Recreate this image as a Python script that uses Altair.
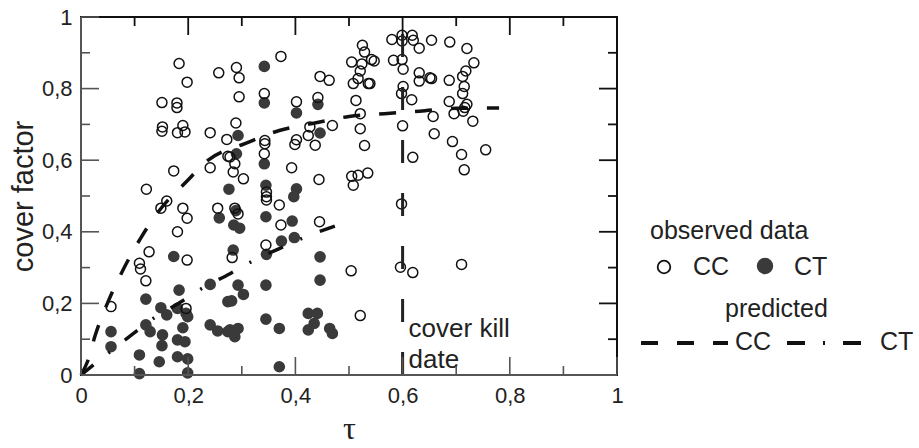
import altair as alt
import pandas as pd

W, H = 536, 358

series = ["CC", "CT"]

# observed data, CC (open circles)
cc_x = [0.183, 0.257, 0.198, 0.151, 0.179, 0.179, 0.152, 0.151, 0.190, 0.180, 0.194, 0.241, 0.272, 0.274,
        0.241, 0.173, 0.122, 0.290, 0.295, 0.373, 0.295, 0.342, 0.402, 0.442, 0.446, 0.463, 0.289, 0.343,
        0.343, 0.402, 0.399, 0.427, 0.424, 0.437, 0.469, 0.278, 0.287, 0.284, 0.303, 0.342, 0.393, 0.444,
        0.346, 0.346, 0.346, 0.370, 0.373, 0.445, 0.160, 0.149, 0.190, 0.198, 0.255, 0.180, 0.127, 0.198,
        0.109, 0.111, 0.121, 0.056, 0.196, 0.282, 0.345, 0.287, 0.293, 0.504, 0.521, 0.596, 0.619, 0.710,
        0.598, 0.600, 0.619, 0.513, 0.521, 0.521, 0.529, 0.525, 0.529, 0.505, 0.524, 0.542, 0.521, 0.508,
        0.536, 0.517, 0.505, 0.517, 0.535, 0.508, 0.580, 0.599, 0.599, 0.618, 0.620, 0.631, 0.654, 0.688,
        0.720, 0.733, 0.583, 0.599, 0.601, 0.547, 0.631, 0.631, 0.651, 0.654, 0.687, 0.712, 0.718, 0.715,
        0.539, 0.601, 0.598, 0.617, 0.687, 0.712, 0.720, 0.716, 0.713, 0.696, 0.731, 0.657, 0.659, 0.693,
        0.710, 0.755, 0.715]
cc_y = [0.870, 0.844, 0.818, 0.761, 0.760, 0.747, 0.693, 0.681, 0.697, 0.677, 0.679, 0.677, 0.658, 0.611,
        0.579, 0.570, 0.519, 0.859, 0.830, 0.890, 0.777, 0.786, 0.763, 0.775, 0.834, 0.823, 0.704, 0.655,
        0.646, 0.657, 0.644, 0.693, 0.669, 0.642, 0.697, 0.609, 0.590, 0.567, 0.548, 0.618, 0.579, 0.546,
        0.511, 0.498, 0.489, 0.475, 0.419, 0.428, 0.486, 0.466, 0.466, 0.438, 0.466, 0.400, 0.344, 0.321,
        0.312, 0.296, 0.263, 0.191, 0.186, 0.328, 0.363, 0.466, 0.450, 0.291, 0.166, 0.301, 0.286, 0.309,
        0.478, 0.696, 0.608, 0.767, 0.730, 0.688, 0.641, 0.921, 0.902, 0.874, 0.869, 0.881, 0.849, 0.814,
        0.814, 0.828, 0.555, 0.558, 0.564, 0.530, 0.937, 0.949, 0.933, 0.949, 0.935, 0.913, 0.935, 0.930,
        0.912, 0.872, 0.879, 0.881, 0.854, 0.877, 0.844, 0.821, 0.830, 0.828, 0.823, 0.834, 0.849, 0.806,
        0.814, 0.806, 0.786, 0.769, 0.764, 0.786, 0.756, 0.747, 0.737, 0.730, 0.709, 0.722, 0.674, 0.652,
        0.616, 0.629, 0.573]

# observed data, CT (filled circles)
ct_x = [0.342, 0.342, 0.402, 0.442, 0.446, 0.293, 0.290, 0.342, 0.276, 0.345, 0.402, 0.397, 0.258, 0.289,
        0.285, 0.296, 0.345, 0.394, 0.374, 0.398, 0.346, 0.284, 0.446, 0.446, 0.345, 0.293, 0.303, 0.281,
        0.345, 0.370, 0.424, 0.441, 0.435, 0.424, 0.464, 0.469, 0.370, 0.278, 0.293, 0.287, 0.241, 0.255,
        0.274, 0.241, 0.274, 0.173, 0.183, 0.121, 0.149, 0.160, 0.180, 0.196, 0.199, 0.121, 0.129, 0.152,
        0.151, 0.190, 0.180, 0.194, 0.056, 0.056, 0.109, 0.146, 0.180, 0.199, 0.109, 0.199]
ct_y = [0.862, 0.760, 0.732, 0.756, 0.676, 0.669, 0.618, 0.590, 0.519, 0.530, 0.520, 0.498, 0.439, 0.459,
        0.419, 0.410, 0.442, 0.430, 0.374, 0.384, 0.337, 0.349, 0.330, 0.265, 0.251, 0.251, 0.225, 0.207,
        0.156, 0.130, 0.172, 0.172, 0.144, 0.126, 0.130, 0.116, 0.023, 0.126, 0.130, 0.107, 0.140, 0.123,
        0.121, 0.253, 0.205, 0.331, 0.237, 0.212, 0.188, 0.168, 0.186, 0.172, 0.163, 0.140, 0.121, 0.112,
        0.082, 0.132, 0.098, 0.093, 0.121, 0.079, 0.056, 0.037, 0.051, 0.045, 0.004, 0.006]

# predicted curves
pred_cc_x = [0, 0.012, 0.027, 0.052, 0.08, 0.112, 0.148, 0.196, 0.238, 0.307, 0.37, 0.434, 0.5, 0.566,
             0.632, 0.70, 0.78]
pred_cc_y = [0, 0.037, 0.113, 0.21, 0.298, 0.384, 0.463, 0.539, 0.601, 0.647, 0.683, 0.703, 0.722, 0.73,
             0.737, 0.745, 0.746]
pred_ct_x = [0, 0.095, 0.137, 0.183, 0.228, 0.278, 0.321, 0.37, 0.418, 0.483]
pred_ct_y = [0, 0.113, 0.16, 0.201, 0.244, 0.283, 0.319, 0.353, 0.385, 0.421]

kill_date = 0.6
kill_text = ["cover kill", "date"]

x_ticks = [0, 0.2, 0.4, 0.6, 0.8, 1]
x_minor = [0.1, 0.3, 0.5, 0.7, 0.9]
y_ticks = [0, 0.2, 0.4, 0.6, 0.8, 1]
y_minor = [0.1, 0.3, 0.5, 0.7, 0.9]

x_title = "τ"
y_title = "cover factor"
legend_obs_title = "observed data"
legend_pred_title = "predicted"

SANS = "Liberation Sans"
TXT = "#222222"
label_expr = "replace(format(datum.value, '~g'), '.', ',')"

xs = alt.Scale(domain=[0, 1], nice=False, zero=False)
ys = alt.Scale(domain=[0, 1], nice=False, zero=False)

x_axis = alt.Axis(values=x_ticks, labelExpr=label_expr, ticks=False, tickSize=0, domain=False, grid=False,
                  labelFont=SANS, labelFontSize=22, labelColor=TXT, labelPadding=10, labelFlush=False,
                  labelOverlap=False, title=x_title, titleFont="Liberation Serif", titleFontSize=32,
                  titleFontWeight="normal", titleColor=TXT, titleX=268, titleY=63,
                  titleBaseline="alphabetic", titleAlign="center")
y_axis = alt.Axis(values=y_ticks, labelExpr=label_expr, ticks=False, tickSize=0, domain=False, grid=False,
                  labelFont=SANS, labelFontSize=22, labelColor=TXT, labelPadding=9, labelFlush=False,
                  labelOverlap=False, title=y_title, titleFont=SANS, titleFontSize=29,
                  titleFontWeight="normal", titleColor=TXT, titleAngle=270, titleX=-49, titleY=179,
                  titleBaseline="alphabetic", titleAlign="center")


def X(f):
    return alt.X(f, type="quantitative", scale=xs, axis=x_axis)


def Y(f):
    return alt.Y(f, type="quantitative", scale=ys, axis=y_axis)


obs_cc = pd.DataFrame({"tau": cc_x, "cf": cc_y})
obs_ct = pd.DataFrame({"tau": ct_x, "cf": ct_y})
pcc = pd.DataFrame({"tau": pred_cc_x, "cf": pred_cc_y})
pct = pd.DataFrame({"tau": pred_ct_x, "cf": pred_ct_y})

filled_layer = alt.Chart(obs_ct).mark_circle(size=135, color="#3a3a3a", opacity=1).encode(
    x=X("tau"), y=Y("cf"))
open_layer = alt.Chart(obs_cc).mark_point(shape="circle", filled=False, size=100, strokeWidth=1.5,
                                          color="#111111", opacity=1).encode(x=X("tau"), y=Y("cf"))

cc_line = alt.Chart(pcc).mark_line(color="#111111", strokeWidth=3.5, strokeDash=[17, 19],
                                    interpolate="monotone").encode(x=X("tau"), y=Y("cf"))
ct_line = alt.Chart(pct).mark_line(color="#111111", strokeWidth=3.5, strokeDash=[16, 19, 2, 19],
                                    interpolate="monotone").encode(x=X("tau"), y=Y("cf"))

kill_line = alt.Chart(pd.DataFrame({"tau": [kill_date], "a": [0], "b": [1]})).mark_rule(
    color="#222222", strokeWidth=3, strokeDash=[23, 30]).encode(x=X("tau"), y=Y("a"), y2="b:Q")
kill_lbl = alt.Chart(pd.DataFrame({"tau": [kill_date, kill_date], "cf": [0.107, 0.020], "t": kill_text})
                     ).mark_text(align="left", baseline="alphabetic", dx=6, font=SANS, fontSize=26,
                                 color=TXT).encode(x=X("tau"), y=Y("cf"), text="t:N")

# inward ticks
xmaj = pd.DataFrame({"v": x_ticks})
xmin = pd.DataFrame({"v": x_minor})
ymaj = pd.DataFrame({"v": y_ticks})
ymin = pd.DataFrame({"v": y_minor})
tick_layers = []
for df, ln in ((xmaj, 18), (xmin, 9)):
    tick_layers.append(alt.Chart(df).mark_rule(color="#555555", strokeWidth=1.6).encode(
        x=X("v"), y=alt.value(H), y2=alt.value(H - ln)))
    tick_layers.append(alt.Chart(df).mark_rule(color="#111111", strokeWidth=1.8).encode(
        x=X("v"), y=alt.value(0), y2=alt.value(ln)))
for df, ln in ((ymaj, 18), (ymin, 9)):
    tick_layers.append(alt.Chart(df).mark_rule(color="#555555", strokeWidth=1.6).encode(
        y=Y("v"), x=alt.value(0), x2=alt.value(ln)))
    tick_layers.append(alt.Chart(df).mark_rule(color="#111111", strokeWidth=1.8).encode(
        y=Y("v"), x=alt.value(W), x2=alt.value(W - ln)))

# frame: left/bottom gray
frame_left = alt.Chart(pd.DataFrame({"a": [0]})).mark_rule(color="#555555", strokeWidth=2).encode(
    x=alt.value(0), y=alt.value(0), y2=alt.value(H))
frame_bottom = alt.Chart(pd.DataFrame({"a": [0]})).mark_rule(color="#555555", strokeWidth=2).encode(
    x=alt.value(0), x2=alt.value(W), y=alt.value(H))


def text_at(t, x, y, size=25):
    return alt.Chart(pd.DataFrame({"t": [t]})).mark_text(
        align="left", baseline="alphabetic", font=SANS, fontSize=size, color=TXT).encode(
        x=alt.value(x), y=alt.value(y), text="t:N")


legend = [
    text_at(legend_obs_title, 569, 222),
    alt.Chart(pd.DataFrame({"s": [series[0]]})).mark_point(shape="circle", filled=False, size=160,
                                                           strokeWidth=1.8, color="#111111", opacity=1
                                                           ).encode(x=alt.value(583), y=alt.value(250)),
    text_at(series[0], 612, 258),
    alt.Chart(pd.DataFrame({"s": [series[1]]})).mark_circle(size=270, color="#3a3a3a", opacity=1
                                                            ).encode(x=alt.value(684), y=alt.value(249)),
    text_at(series[1], 713, 258),
    text_at(legend_pred_title, 644, 300),
    alt.Chart(pd.DataFrame({"s": [series[0]]})).mark_rule(color="#111111", strokeWidth=4,
                                                          strokeDash=[17, 19]).encode(
        x=alt.value(560), x2=alt.value(647), y=alt.value(326)),
    text_at(series[0], 654, 333),
    alt.Chart(pd.DataFrame({"s": [series[1]]})).mark_rule(color="#111111", strokeWidth=4,
                                                          strokeDash=[18, 18, 2, 18]).encode(
        x=alt.value(706), x2=alt.value(781), y=alt.value(326)),
    text_at(series[1], 799, 333),
]

chart = alt.layer(
    filled_layer, open_layer, cc_line, ct_line, kill_line, kill_lbl,
    *tick_layers, frame_left, frame_bottom, *legend
).properties(
    width=W, height=H,
    autosize=alt.AutoSizeParams(type="none"),
    padding={"left": 81, "top": 17, "right": 302, "bottom": 73},
    background="white",
).configure_view(stroke="#111111", strokeWidth=2)

chart.save("out.html", embed_options={"renderer": "svg", "actions": False})
